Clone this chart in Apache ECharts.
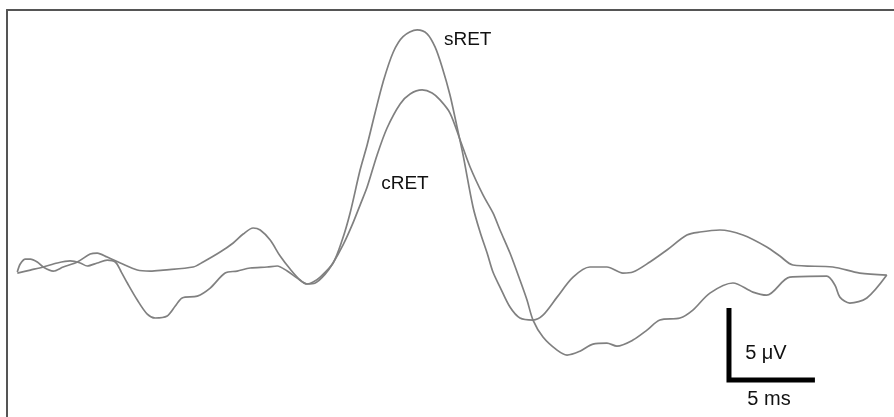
<!DOCTYPE html>
<html>
<head>
<meta charset="utf-8">
<title>sRET / cRET</title>
<script src="https://cdn.jsdelivr.net/npm/echarts@6/dist/echarts.min.js"></script>
<style>
  html, body { margin: 0; padding: 0; background: #ffffff; }
  #chart { width: 894px; height: 417px; }
</style>
</head>
<body>
<div id="chart"></div>
<script>
// Averaged responses, time in ms, amplitude in µV
const sRetTimeMs = [0.00, 0.17, 0.47, 0.76, 1.16, 1.51, 2.09, 2.67, 3.49, 4.24,
  4.65, 5.23, 5.99, 6.98, 7.73, 8.49, 10.23, 10.81, 11.80, 12.56,
  13.14, 13.72, 14.13, 14.71, 15.29, 15.87, 16.45, 16.86, 17.21, 17.62,
  18.37, 18.90, 19.36, 19.94, 20.35, 20.81, 21.28, 21.86, 22.44, 23.26,
  23.84, 24.30, 24.71, 25.17, 25.58, 25.93, 26.51, 26.92, 27.33, 27.67,
  28.08, 28.66, 29.24, 30.00, 30.58, 31.40, 32.33, 33.31, 34.30, 35.23,
  35.81, 36.80, 37.79, 38.95, 39.71, 40.87, 42.21, 43.60, 44.36, 45.12,
  47.44, 49.01, 50.58];
const sRetUv = [-0.14, 0.42, 0.76, 0.76, 0.56, 0.21, -0.07, 0.21, 0.56, 1.11,
  1.18, 0.90, 0.49, 0.00, -0.07, 0.00, 0.21, 0.56, 1.25, 1.88,
  2.50, 2.92, 2.78, 2.08, 0.97, 0.07, -0.69, -0.97, -0.83, -0.49,
  0.49, 2.08, 3.96, 6.94, 8.68, 10.90, 13.06, 15.10, 16.20, 16.67,
  16.40, 15.49, 14.10, 12.15, 9.93, 7.99, 4.38, 2.64, 1.18, -0.14,
  -1.18, -2.57, -3.33, -3.47, -3.13, -1.88, -0.49, 0.21, 0.21, -0.21,
  -0.14, 0.56, 1.39, 2.43, 2.64, 2.78, 2.43, 1.60, 0.97, 0.35,
  0.21, -0.21, -0.35];

const cRetTimeMs = [0.00, 0.76, 1.51, 2.33, 3.08, 3.66, 4.07, 4.65, 5.23, 5.70,
  6.05, 6.40, 6.98, 7.56, 8.02, 8.72, 9.19, 9.59, 10.47, 11.22,
  12.09, 12.79, 13.55, 14.53, 15.12, 15.70, 16.28, 16.86, 17.33, 17.91,
  18.37, 18.95, 19.48, 19.94, 20.35, 20.93, 21.51, 22.27, 22.85, 23.55,
  24.13, 24.59, 25.17, 25.76, 26.34, 27.09, 27.67, 28.08, 28.66, 29.24,
  29.65, 30.00, 30.58, 31.40, 31.98, 32.73, 33.49, 34.30, 34.88, 35.81,
  36.63, 37.38, 38.55, 39.30, 40.29, 41.63, 42.79, 43.60, 44.94, 47.09,
  47.56, 47.85, 48.43, 49.42, 50.58];
const cRetUv = [-0.21, 0.00, 0.21, 0.49, 0.63, 0.49, 0.28, 0.49, 0.69, 0.56,
  -0.14, -0.90, -2.08, -3.06, -3.33, -3.19, -2.50, -1.94, -1.81, -1.25,
  -0.21, -0.07, 0.14, 0.21, 0.28, -0.07, -0.56, -0.97, -0.90, -0.28,
  0.49, 1.74, 3.13, 4.51, 5.76, 7.99, 9.86, 11.53, 12.22, 12.50,
  12.29, 11.81, 10.90, 9.03, 7.15, 5.21, 3.96, 2.78, 1.18, -0.69,
  -2.08, -3.47, -4.65, -5.56, -5.90, -5.63, -5.14, -5.07, -5.28, -4.86,
  -4.17, -3.47, -3.33, -2.78, -1.60, -0.90, -1.53, -1.74, -0.49, -0.42,
  -1.04, -1.88, -2.29, -1.94, -0.35];

// Calibration bar: corner position and lengths
const scaleBarOrigin = [41.4, -7.63];   // [ms, µV]
const scaleBarTimeMs = 5;
const scaleBarUv = 5;

const seriesNames = ['sRET', 'cRET'];
const scaleLabels = ['5 \u03bcV', '5 ms'];

function pairs(t, v) {
  return t.map((x, i) => [x, v[i]]);
}

const traceStyle = { color: '#808080', width: 1.7 };

const chart = echarts.init(document.getElementById('chart'), null, { renderer: 'canvas' });

const bar = [
  [scaleBarOrigin[0], scaleBarOrigin[1] + scaleBarUv],
  [scaleBarOrigin[0], scaleBarOrigin[1]],
  [scaleBarOrigin[0] + scaleBarTimeMs, scaleBarOrigin[1]]
];

chart.setOption({
  backgroundColor: '#ffffff',
  animation: false,
  grid: { left: 7, right: 0, top: 10, bottom: 0, containLabel: false },
  xAxis: {
    type: 'value',
    position: 'top',
    min: -0.6,
    max: 51,
    axisLine: { show: true, onZero: false, lineStyle: { color: '#555555', width: 2 } },
    axisTick: { show: false },
    axisLabel: { show: false },
    splitLine: { show: false }
  },
  yAxis: {
    type: 'value',
    min: -10.2,
    max: 18.05,
    axisLine: { show: true, onZero: false, lineStyle: { color: '#555555', width: 2 } },
    axisTick: { show: false },
    axisLabel: { show: false },
    splitLine: { show: false }
  },
  series: [
    {
      name: seriesNames[0],
      type: 'line',
      data: pairs(sRetTimeMs, sRetUv),
      showSymbol: false,
      smooth: 0.3,
      lineStyle: traceStyle
    },
    {
      name: seriesNames[1],
      type: 'line',
      data: pairs(cRetTimeMs, cRetUv),
      showSymbol: false,
      smooth: 0.3,
      lineStyle: traceStyle
    },
    {
      name: 'scale',
      type: 'line',
      data: bar,
      showSymbol: false,
      lineStyle: { color: '#000000', width: 5, cap: 'butt', join: 'miter' }
    }
  ]
});

// Text labels placed at data coordinates
const toPx = (p) => chart.convertToPixel({ gridIndex: 0 }, p);
const font = (size) => size + 'px "Liberation Sans", Arial, sans-serif';
const sPos = toPx([26.2, 15.97]);
const cPos = toPx([22.55, 5.97]);
const uvPos = toPx([scaleBarOrigin[0] + 2.15, scaleBarOrigin[1] + 1.81]);
const msPos = toPx([scaleBarOrigin[0] + 2.33, scaleBarOrigin[1] - 1.38]);

function label(pos, text, size) {
  return {
    type: 'text', x: pos[0], y: pos[1],
    style: { text: text, font: font(size), fill: '#111111', align: 'center', verticalAlign: 'middle' }
  };
}

chart.setOption({
  graphic: [
    label(sPos, seriesNames[0], 19),
    label(cPos, seriesNames[1], 19),
    label(uvPos, scaleLabels[0], 20),
    label(msPos, scaleLabels[1], 20)
  ]
});
</script>
</body>
</html>
